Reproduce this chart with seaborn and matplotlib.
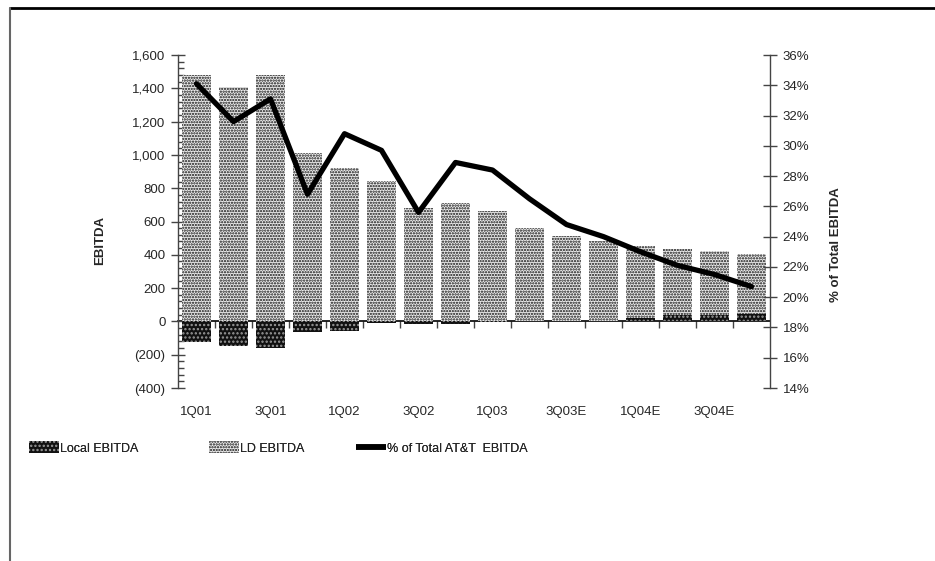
import numpy as np
import pandas as pd
import matplotlib
matplotlib.use("Agg")
import matplotlib.pyplot as plt
import seaborn as sns
from matplotlib.ticker import FuncFormatter, MultipleLocator
from matplotlib.patches import Patch
from matplotlib.lines import Line2D

# Quarterly EBITDA ($M) and share of total AT&T EBITDA (%)
quarters = ["1Q01", "2Q01", "3Q01", "4Q01", "1Q02", "2Q02", "3Q02", "4Q02",
            "1Q03", "2Q03", "3Q03E", "4Q03E", "1Q04E", "2Q04E", "3Q04E", "4Q04E"]
ld_ebitda = [1480, 1410, 1480, 1010, 920, 845, 680, 710,
             665, 560, 510, 480, 455, 435, 420, 405]
local_ebitda = [-125, -145, -160, -65, -60, -10, -15, -15,
                -5, 0, 0, 5, 20, 40, 40, 45]
pct_total = [34.1, 31.6, 33.1, 26.8, 30.8, 29.7, 25.6, 28.9,
             28.4, 26.5, 24.8, 24.0, 23.0, 22.1, 21.5, 20.7]

sns.set_theme(style="white")
plt.rcParams["font.family"] = ["Liberation Sans", "DejaVu Sans"]
plt.rcParams["hatch.linewidth"] = 1.1

df = pd.DataFrame({
    "quarter": quarters,
    "ld": ld_ebitda,
    "local": local_ebitda,
    "pct": pct_total,
    "pos": np.arange(len(quarters)),
})

W, H = 935, 561
fig = plt.figure(figsize=(W / 100, H / 100), dpi=100)
ax = fig.add_axes([178 / W, 1 - 388 / H, 592 / W, 333 / H])

ld_style = dict(facecolor="#ececec", hatch="......", edgecolor="#111111")
local_style = dict(facecolor="#111111", hatch="....", edgecolor="#9a9a9a")

sns.barplot(data=df, x="quarter", y="ld", order=quarters,
            color=ld_style["facecolor"], saturation=1, width=0.8,
            linewidth=0, ax=ax,
            hatch=ld_style["hatch"], edgecolor=ld_style["edgecolor"])
sns.barplot(data=df, x="quarter", y="local", order=quarters,
            color=local_style["facecolor"], saturation=1, width=0.8,
            linewidth=0, ax=ax,
            hatch=local_style["hatch"], edgecolor=local_style["edgecolor"])

ymin, ymax = -400, 1600
ax.set_ylim(ymin, ymax)
ax.set_xlim(-0.5, len(quarters) - 0.5)
ax.set_yticks(np.arange(ymin, ymax + 1, 200))
ax.yaxis.set_minor_locator(MultipleLocator(40))


def money(v, _):
    if v == 0:
        return "0"
    return f"{v:,.0f}" if v > 0 else f"({-v:,.0f})"


ax.yaxis.set_major_formatter(FuncFormatter(money))
ax.tick_params(axis="y", which="major", direction="inout", length=10,
               width=1, color="#444444", labelsize=9.5, pad=4, left=True)
ax.tick_params(axis="y", which="minor", direction="in", length=4,
               width=1, color="#444444", left=True)

ax.set_xticks(np.arange(0, len(quarters), 2))
ax.set_xticklabels(quarters[::2])
ax.tick_params(axis="x", length=0, labelsize=9.5, pad=13, bottom=True)

for s in ["top", "right", "bottom"]:
    ax.spines[s].set_visible(False)
ax.spines["left"].set_color("#444444")
ax.spines["left"].set_linewidth(1)

ax.set_xlabel("")
ax.set_ylabel("EBITDA", fontsize=9.5, fontweight="bold")
ax.yaxis.set_label_coords(-72 / 592, 0.444)

# Category axis drawn along the zero line
zero_frac = (0 - ymin) / (ymax - ymin)
sec = ax.secondary_xaxis(zero_frac)
sec.set_xticks(np.arange(0.5, len(quarters) - 1, 1))
sec.tick_params(axis="x", direction="out", length=5, width=1,
                color="#444444", labelbottom=False, labeltop=False)
for s in sec.spines.values():
    s.set_color("black")
    s.set_linewidth(1.2)

# Share of total EBITDA on the right axis
ax2 = ax.twinx()
sns.lineplot(data=df, x="pos", y="pct", color="black", linewidth=3.8, ax=ax2)
ax2.set_ylim(14, 36)
ax2.set_xlim(-0.5, len(quarters) - 0.5)
ax2.set_yticks(np.arange(14, 37, 2))
ax2.yaxis.set_major_formatter(FuncFormatter(lambda v, _: f"{v:.0f}%"))
ax2.tick_params(axis="y", direction="inout", length=10, width=1,
                color="#444444", labelsize=9.5, pad=4, right=True)
for s in ["top", "left", "bottom"]:
    ax2.spines[s].set_visible(False)
ax2.spines["right"].set_color("#444444")
ax2.spines["right"].set_linewidth(1)
ax2.set_xlabel("")
ax2.set_ylabel("% of Total EBITDA", fontsize=9.5, fontweight="bold")
ax2.yaxis.set_label_coords(1 + 60 / 592, 0.43)

# Legend entries, each anchored at its own spot along the bottom row
entries = [
    (Patch(label="Local EBITDA", linewidth=0, **local_style), 29),
    (Patch(label="LD EBITDA", linewidth=0, **ld_style), 209),
    (Line2D([], [], color="black", linewidth=4, solid_capstyle="butt",
            label="% of Total AT&T  EBITDA"), 356),
]
for handle, x_px in entries:
    leg = fig.legend(handles=[handle], loc="center left",
                     bbox_to_anchor=(x_px / W, 1 - 448 / H), frameon=False,
                     fontsize=9, handlelength=2.4, handleheight=1.1,
                     handletextpad=0.1, borderaxespad=0, borderpad=0)
    fig.add_artist(leg)

# Page frame lines
fig.add_artist(Line2D([10 / W, 1], [1 - 8 / H] * 2, color="black",
                      linewidth=2, transform=fig.transFigure))
fig.add_artist(Line2D([10 / W] * 2, [0, 1 - 8 / H], color="#666666",
                      linewidth=1.5, transform=fig.transFigure))

fig.savefig("out.png", dpi=100)
